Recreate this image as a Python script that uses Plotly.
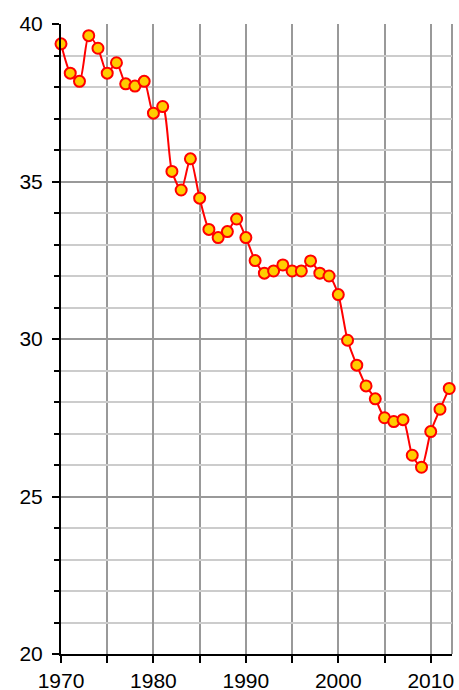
import plotly.graph_objects as go

years = list(range(1970, 2013))
values = [39.37, 38.44, 38.18, 39.63, 39.23, 38.44, 38.77, 38.10, 38.03, 38.18,
          37.17, 37.38, 35.32, 34.73, 35.72, 34.47, 33.48, 33.22, 33.41, 33.81,
          33.22, 32.49, 32.09, 32.16, 32.35, 32.16, 32.16, 32.48, 32.09, 32.00,
          31.41, 29.96, 29.17, 28.51, 28.10, 27.50, 27.38, 27.44, 26.31, 25.93,
          27.06, 27.77, 28.43]

fig = go.Figure()
fig.add_trace(go.Scatter(
    x=years, y=values, mode="lines+markers",
    line=dict(color="#FF0000", width=2, shape="spline", smoothing=0.7),
    marker=dict(size=11, color="#FFCC00", line=dict(color="#FF0000", width=2)),
    cliponaxis=False, showlegend=False,
))

font = dict(family="Liberation Sans, Arial, sans-serif", size=21, color="black")

fig.update_layout(
    width=459, height=690,
    margin=dict(l=61, r=7, t=24, b=36, autoexpand=False),
    paper_bgcolor="white", plot_bgcolor="white",
    font=font,
    xaxis=dict(
        range=[1970, 2012.3], tick0=1970, dtick=10,
        ticks="outside", ticklen=7, tickwidth=2, tickcolor="black",
        showgrid=True, gridcolor="#999999", gridwidth=2,
        showline=True, linecolor="black", linewidth=2,
        zeroline=False, tickfont=font, ticklabelstandoff=0,
        minor=dict(tick0=1970, dtick=5, ticks="outside", ticklen=7, tickwidth=2,
                   tickcolor="black", showgrid=True, gridcolor="#999999", gridwidth=2),
    ),
    yaxis=dict(
        range=[20, 40], tick0=20, dtick=5,
        ticks="outside", ticklen=7, tickwidth=2, tickcolor="black",
        showgrid=True, gridcolor="#999999", gridwidth=2,
        showline=True, linecolor="black", linewidth=2,
        zeroline=False, tickfont=font, ticklabelstandoff=5,
        minor=dict(tick0=20, dtick=1, ticks="outside", ticklen=5, tickwidth=2,
                   tickcolor="black", showgrid=True, gridcolor="#CCCCCC", gridwidth=2),
    ),
    shapes=[
        dict(type="line", xref="paper", yref="paper", x0=1, x1=1, y0=0, y1=1,
             line=dict(color="#999999", width=2), layer="below"),
    ],
)

fig.write_html(
    "out.html",
    config={"displayModeBar": False},
    post_script="document.body.style.margin='0';document.body.style.overflow='hidden';",
)
